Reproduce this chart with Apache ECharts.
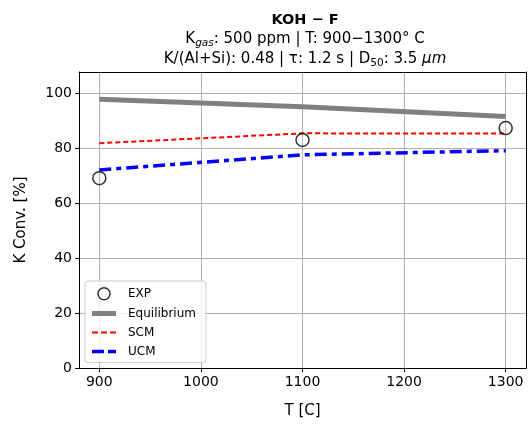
<!DOCTYPE html>
<html><head><meta charset="utf-8">
<script src="https://cdn.jsdelivr.net/npm/echarts@6/dist/echarts.min.js"></script>
<style>html,body{margin:0;padding:0;background:#fff}#c{width:530px;height:424px}</style>
</head><body><div id="c"></div>
<script>
const temps = [900, 1100, 1300];
const expVals = [69.0, 82.9, 87.2];
const eqVals = [97.7, 95.0, 91.4];
const scmVals = [81.7, 85.3, 85.2];
const ucmVals = [72.0, 77.5, 79.0];
const xTicks = [900, 1000, 1100, 1200, 1300];
const yTicks = [0, 20, 40, 60, 80, 100];

const F = 'DejaVu Sans';
const pair = (xs, ys) => xs.map((x, i) => [x, ys[i]]);
const corners = 'M0,0h0.01v0.01h-0.01Z M23.99,11.99h0.01v0.01h-0.01Z ';
const iconEq = 'path://' + corners + 'M0,3.5H24V8.5H0Z';
const iconScm = 'path://' + corners + 'M0,5H6V7H0Z M9,5H15V7H9Z M18,5H24V7H18Z';
const iconUcm = 'path://' + corners + 'M0,4.25H12V7.75H0Z M16,4.25H24V7.75H16Z';
const chart = echarts.init(document.getElementById('c'), null, {renderer: 'canvas'});
const rs = {fontFamily: F, fontSize: 15, fontWeight: 'normal', color: '#000', lineHeight: 19.5};
chart.setOption({
  animation: false,
  backgroundColor: '#fff',
  title: {
    left: 300, textAlign: 'center', top: 5, itemGap: 0,
    text: '{b|KOH − F}\n{n|K}{si|gas}{n|: 500 ppm | T: 900−1300° C}\n{n|K/(Al+Si): 0.48 | τ: 1.2 s | D}{s|50}{n|: 3.5 }{i|μm}',
    textStyle: {
      fontFamily: F, fontSize: 15, fontWeight: 'normal', color: '#000', lineHeight: 19.5,
      rich: {
        b: Object.assign({}, rs, {fontWeight: 'bold', fontSize: 14.5}),
        n: rs,
        s: Object.assign({}, rs, {fontSize: 10.5, verticalAlign: 'bottom', padding: [7, 0, 0, 0]}),
        si: Object.assign({}, rs, {fontSize: 10.5, fontStyle: 'italic', verticalAlign: 'bottom', padding: [7, 0, 0, 0]}),
        i: Object.assign({}, rs, {fontStyle: 'italic'})
      }
    }
  },
  grid: {left: 79, right: 4, top: 72, bottom: 56, containLabel: false},
  xAxis: [{
    type: 'value', min: 880, max: 1320, interval: 100,
    name: 'T [C]', nameLocation: 'middle', nameGap: 36,
    nameTextStyle: {fontFamily: F, fontSize: 15, color: '#000'},
    axisLine: {show: true, lineStyle: {color: '#000', width: 1}},
    axisTick: {show: true, length: 4, lineStyle: {color: '#000'}, customValues: xTicks},
    axisLabel: {fontFamily: F, fontSize: 14, color: '#000', margin: 7, customValues: xTicks, formatter: v => String(v)},
    splitLine: {show: true, lineStyle: {color: '#b0b0b0', width: 1}},
  }, {
    type: 'value', position: 'top', min: 880, max: 1320,
    axisLine: {show: true, onZero: false, lineStyle: {color: '#000', width: 1}},
    axisTick: {show: false}, axisLabel: {show: false}, splitLine: {show: false}
  }],
  yAxis: [{
    type: 'value', min: 0, max: 107.6, interval: 20,
    name: 'K Conv. [%]', nameLocation: 'middle', nameGap: 50,
    nameTextStyle: {fontFamily: F, fontSize: 15, color: '#000'},
    axisLine: {show: true, lineStyle: {color: '#000', width: 1}},
    axisTick: {show: true, length: 4, lineStyle: {color: '#000'}, customValues: yTicks},
    axisLabel: {fontFamily: F, fontSize: 14, color: '#000', margin: 7, customValues: yTicks},
    splitLine: {show: true, lineStyle: {color: '#b0b0b0', width: 1}},
  }, {
    type: 'value', position: 'right', min: 0, max: 107.6,
    axisLine: {show: true, onZero: false, lineStyle: {color: '#000', width: 1}},
    axisTick: {show: false}, axisLabel: {show: false}, splitLine: {show: false}
  }],
  legend: {
    orient: 'vertical', left: 85, top: 281, itemWidth: 24, itemHeight: 12, itemGap: 7,
    padding: [6, 10, 5, 7],
    backgroundColor: 'rgba(255,255,255,0.8)', borderColor: '#cccccc', borderWidth: 1, borderRadius: 3,
    textStyle: {fontFamily: F, fontSize: 12, color: '#000', padding: [0, 0, 0, 7]},
    data: [
      {name: 'EXP', icon: 'circle', itemStyle: {color: '#fff', borderColor: '#000', borderWidth: 1.5}},
      {name: 'Equilibrium', icon: iconEq, itemStyle: {color: '#808080'}},
      {name: 'SCM', icon: iconScm, itemStyle: {color: '#ff0000'}},
      {name: 'UCM', icon: iconUcm, itemStyle: {color: '#0000ff'}}
    ]
  },
  series: [
    {name: 'Equilibrium', type: 'line', data: pair(temps, eqVals), symbol: 'none', z: 2,
     lineStyle: {color: '#808080', width: 5}, itemStyle: {color: '#808080'}},
    {name: 'SCM', type: 'line', data: pair(temps, scmVals), symbol: 'none', z: 3,
     lineStyle: {color: '#ff0000', width: 2, type: [5, 3]}, itemStyle: {color: '#ff0000'}},
    {name: 'UCM', type: 'line', data: pair(temps, ucmVals), symbol: 'none', z: 3,
     lineStyle: {color: '#0000ff', width: 3.5, type: [12, 5, 5, 5]}, itemStyle: {color: '#0000ff'}},
    {name: 'EXP', type: 'scatter', data: pair(temps, expVals), symbol: 'circle', symbolSize: 13, z: 4,
     itemStyle: {color: 'rgba(255,255,255,0)', borderColor: '#000', borderWidth: 1.5}}
  ]
});
</script></body></html>
